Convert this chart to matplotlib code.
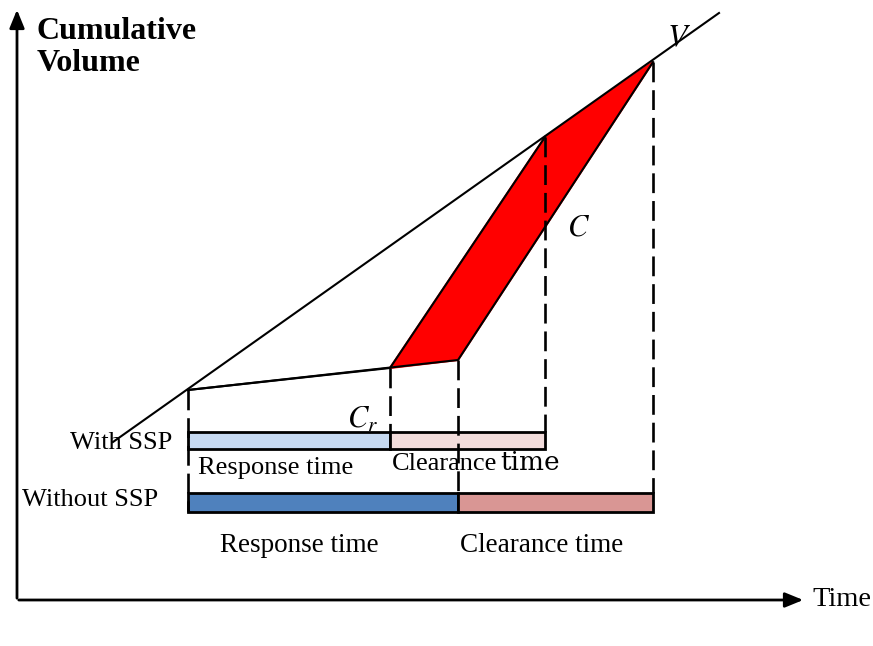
import numpy as np
import matplotlib
matplotlib.use("Agg")
import matplotlib.pyplot as plt
from matplotlib.patches import Polygon, Rectangle

plt.rcParams['font.family'] = ['Liberation Serif', 'DejaVu Serif']
plt.rcParams['mathtext.fontset'] = 'stix'

# time instants (x) : incident, response end with SSP, response end without SSP,
# clearance end with SSP, clearance end without SSP
t_incident = 171
t_resp_ssp = 373
t_resp = 441
t_clear_ssp = 528
t_clear = 636

# cumulative volume at those instants
v_incident = 210
v_resp_ssp = 232
v_resp = 240
v_clear_ssp = 463
v_clear = 538

# arrival curve end points
arrival_t = [96, 702]
arrival_v = [158, 587]

# timeline bars (bottom, height)
bar_ssp = (151, 17)
bar_nossp = (88, 19)

col_resp_ssp = '#c6d9f1'
col_clear_ssp = '#f2dcdb'
col_resp = '#4f81bd'
col_clear = '#d99694'

fig = plt.figure(figsize=(8.73, 6.46), dpi=100)
ax = fig.add_axes([0, 0, 1, 1])
ax.set_xlim(-17, 856)
ax.set_ylim(-46, 600)
ax.axis('off')

# axes arrows
ax.annotate('', xy=(0, 593), xytext=(0, -1),
            arrowprops=dict(arrowstyle='-|>,head_length=1.1,head_width=0.45', color='black', lw=2))
ax.annotate('', xy=(789, 0), xytext=(-1, 0),
            arrowprops=dict(arrowstyle='-|>,head_length=1.1,head_width=0.45', color='black', lw=2))

# red area between the two departure curves
red = Polygon([(t_resp_ssp, v_resp_ssp), (t_clear_ssp, v_clear_ssp), (t_clear, v_clear), (t_resp, v_resp)],
              closed=True, facecolor='#ff0000', edgecolor='#ff0000', lw=1.5, zorder=2)
ax.add_patch(red)

# arrival curve
ax.plot(arrival_t, arrival_v, color='black', lw=1.5, zorder=3)
# departure without SSP
ax.plot([t_incident, t_resp, t_clear], [v_incident, v_resp, v_clear], color='black', lw=1.5, zorder=3)
# departure with SSP
ax.plot([t_incident, t_resp_ssp, t_clear_ssp], [v_incident, v_resp_ssp, v_clear_ssp],
        color='black', lw=1.5, zorder=3)

# timeline bars
def bar(x0, x1, yb, h, c):
    ax.add_patch(Rectangle((x0, yb), x1 - x0, h, facecolor=c, edgecolor='black', lw=2, zorder=4))

bar(t_incident, t_resp_ssp, bar_ssp[0], bar_ssp[1], col_resp_ssp)
bar(t_resp_ssp, t_clear_ssp, bar_ssp[0], bar_ssp[1], col_clear_ssp)
bar(t_incident, t_resp, bar_nossp[0], bar_nossp[1], col_resp)
bar(t_resp, t_clear, bar_nossp[0], bar_nossp[1], col_clear)

# dashed verticals
dash = dict(color='black', lw=1.9, ls=(0, (7.5, 3)), zorder=5)
ax.plot([t_incident, t_incident], [v_incident, bar_nossp[0]], **dash)
ax.plot([t_resp_ssp, t_resp_ssp], [v_resp_ssp, bar_ssp[0] + bar_ssp[1]], **dash)
ax.plot([t_resp, t_resp], [v_resp, bar_nossp[0] + bar_nossp[1]], **dash)
ax.plot([t_clear_ssp, t_clear_ssp], [v_clear_ssp, bar_ssp[0] + bar_ssp[1]], **dash)
ax.plot([t_clear, t_clear], [v_clear, bar_nossp[0] + bar_nossp[1]], **dash)

# texts
ax.text(20, 583, 'Cumulative\nVolume', fontsize=23, fontweight='bold', va='top', ha='left', linespacing=1.15)
ax.text(155, 157, 'With SSP', fontsize=19, ha='right', va='center')
ax.text(141, 100, 'Without SSP', fontsize=19, ha='right', va='center')
ax.text(181, 132, 'Response time', fontsize=19, ha='left', va='center')
ax.text(375, 136, 'Clearance', fontsize=19, ha='left', va='center')
ax.text(483, 137, 'time', fontsize=19, family='DejaVu Serif', ha='left', va='center')
ax.text(203, 55, 'Response time', fontsize=19.5, ha='left', va='center')
ax.text(443, 55, 'Clearance time', fontsize=19.5, ha='left', va='center')
ax.text(795, 0, 'Time', fontsize=20.5, ha='left', va='center')
ax.text(562, 372, '$C$', fontsize=22, ha='center', va='center')
ax.text(346, 180, '$C_r$', fontsize=22, ha='center', va='center')
ax.text(662, 561, '$V$', fontsize=23, ha='center', va='center')

fig.savefig('out.png', dpi=100)
